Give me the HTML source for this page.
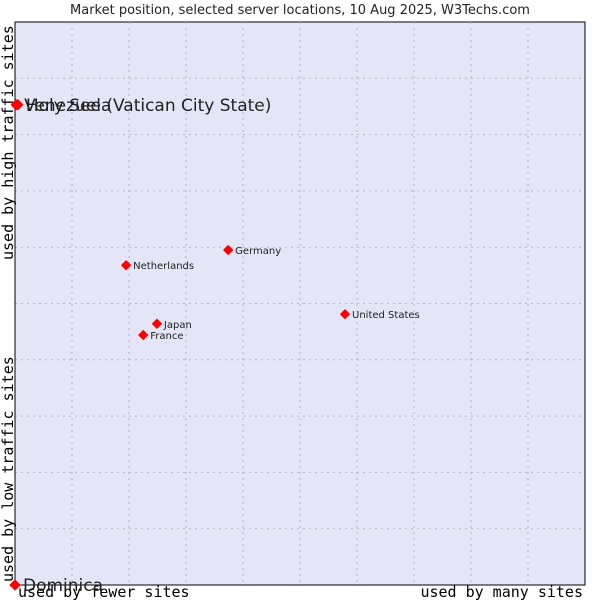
<!DOCTYPE html>
<html><head><meta charset="utf-8"><style>
body{margin:0;background:#fff;}
svg text{font-family:"DejaVu Sans","Liberation Sans",sans-serif;}
.mono{font-family:"DejaVu Sans Mono","Liberation Mono",monospace;font-size:15px;fill:#000;}
</style></head><body>
<svg id="chart" width="600" height="600" xmlns="http://www.w3.org/2000/svg">
<text x="300" y="14" text-anchor="middle" font-size="13" fill="#222">Market position, selected server locations, 10 Aug 2025, W3Techs.com</text>
<rect x="15" y="22" width="570" height="563" fill="#e4e6f8" stroke="#000" stroke-width="1"/>
<g id="grid"></g>
<line x1="15" y1="22" x2="15" y2="585" stroke="#000"/>
<line x1="15" y1="585" x2="585" y2="585" stroke="#000"/>
<text class="mono" x="18" y="597">used by fewer sites</text>
<text class="mono" x="583" y="597" text-anchor="end">used by many sites</text>
<text class="mono" transform="translate(13,260) rotate(-90)">used by high traffic sites</text>
<text class="mono" transform="translate(13,582) rotate(-90)">used by low traffic sites</text>
<g id="points"></g>
</svg>
<script>
const countries=["Venezuela","Holy See (Vatican City State)","Dominica","Netherlands","Germany","Japan","France","United States"];
const xValues=[0.2,0.5,0,19.5,37.4,24.9,22.5,57.9];
const yValues=[85.3,85.3,0,56.8,59.5,46.4,44.4,48.1];
const largeLabel=[true,true,true,false,false,false,false,false];
const L=15,R=585,T=22,B=585;
const xs=v=>L+v/100*(R-L);
const ys=v=>B-v/100*(B-T);
const NS="http://www.w3.org/2000/svg";
const grid=document.getElementById('grid');
for(let i=1;i<10;i++){
  const vl=document.createElementNS(NS,'line');
  vl.setAttribute('x1',xs(i*10));vl.setAttribute('x2',xs(i*10));vl.setAttribute('y1',T);vl.setAttribute('y2',B);
  vl.setAttribute('stroke','#b4b4b4');vl.setAttribute('stroke-dasharray','2,4');
  
  
  grid.appendChild(vl);
  const hl=document.createElementNS(NS,'line');
  hl.setAttribute('y1',ys(i*10));hl.setAttribute('y2',ys(i*10));hl.setAttribute('x1',L);hl.setAttribute('x2',R);
  hl.setAttribute('stroke','#b4b4b4');hl.setAttribute('stroke-dasharray','2,4');
  
  
  grid.appendChild(hl);
}
const pts=document.getElementById('points');
countries.forEach((c,i)=>{
  const x=xs(xValues[i]),y=ys(yValues[i]);
  const g=document.createElementNS(NS,'g');
  
  
  const r=largeLabel[i]?5:4.5;
  const d=document.createElementNS(NS,'polygon');
  d.setAttribute('points',`${x},${y-r} ${x+r},${y} ${x},${y+r} ${x-r},${y}`);
  d.setAttribute('fill','#f00');
  d.setAttribute('stroke','#f00');
  d.setAttribute('stroke-width','1');
  d.setAttribute('stroke-linejoin','round');
  g.appendChild(d);
  const t=document.createElementNS(NS,'text');
  t.setAttribute('x',x+(largeLabel[i]?8:7));
  t.setAttribute('y',y+(largeLabel[i]?6:4));
  t.setAttribute('font-size',largeLabel[i]?17:10);
  t.setAttribute('fill','#222');
  t.textContent=c;
  g.appendChild(t);
  pts.appendChild(g);
});
</script>
</body></html>
